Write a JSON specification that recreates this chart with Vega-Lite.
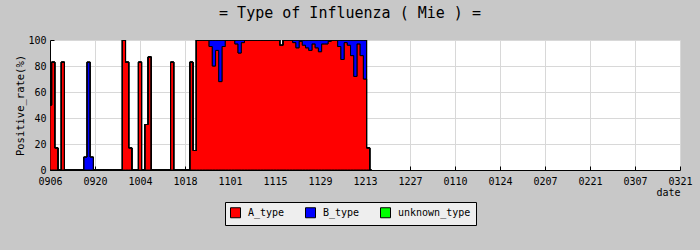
{
  "$schema": "https://vega.github.io/schema/vega-lite/v6.json",
  "width": 630,
  "height": 130,
  "autosize": {"type": "none"},
  "padding": {"left": 50, "top": 40, "right": 20, "bottom": 80},
  "background": "#c8c8c8",
  "title": {"text": "= Type of Influenza ( Mie ) =", "font": "DejaVu Sans Mono", "fontSize": 15, "fontWeight": "normal", "color": "black", "anchor": "middle", "dx": -15, "offset": 14},
  "config": {"view": {"fill": "white", "stroke": null}},
  "data": {"values": [
    {"date": "2009-09-06", "A_type": 50, "B_type": 0, "unknown_type": 0},
    {"date": "2009-09-07", "A_type": 83, "B_type": 0, "unknown_type": 0},
    {"date": "2009-09-08", "A_type": 17, "B_type": 0, "unknown_type": 0},
    {"date": "2009-09-09", "A_type": 0, "B_type": 0, "unknown_type": 0},
    {"date": "2009-09-10", "A_type": 83, "B_type": 0, "unknown_type": 0},
    {"date": "2009-09-11", "A_type": 0, "B_type": 0, "unknown_type": 0},
    {"date": "2009-09-12", "A_type": 0, "B_type": 0, "unknown_type": 0},
    {"date": "2009-09-13", "A_type": 0, "B_type": 0, "unknown_type": 0},
    {"date": "2009-09-14", "A_type": 0, "B_type": 0, "unknown_type": 0},
    {"date": "2009-09-15", "A_type": 0, "B_type": 0, "unknown_type": 0},
    {"date": "2009-09-16", "A_type": 0, "B_type": 0, "unknown_type": 0},
    {"date": "2009-09-17", "A_type": 0, "B_type": 10, "unknown_type": 0},
    {"date": "2009-09-18", "A_type": 0, "B_type": 83, "unknown_type": 0},
    {"date": "2009-09-19", "A_type": 0, "B_type": 10, "unknown_type": 0},
    {"date": "2009-09-20", "A_type": 0, "B_type": 0, "unknown_type": 0},
    {"date": "2009-09-21", "A_type": 0, "B_type": 0, "unknown_type": 0},
    {"date": "2009-09-22", "A_type": 0, "B_type": 0, "unknown_type": 0},
    {"date": "2009-09-23", "A_type": 0, "B_type": 0, "unknown_type": 0},
    {"date": "2009-09-24", "A_type": 0, "B_type": 0, "unknown_type": 0},
    {"date": "2009-09-25", "A_type": 0, "B_type": 0, "unknown_type": 0},
    {"date": "2009-09-26", "A_type": 0, "B_type": 0, "unknown_type": 0},
    {"date": "2009-09-27", "A_type": 0, "B_type": 0, "unknown_type": 0},
    {"date": "2009-09-28", "A_type": 0, "B_type": 0, "unknown_type": 0},
    {"date": "2009-09-29", "A_type": 100, "B_type": 0, "unknown_type": 0},
    {"date": "2009-09-30", "A_type": 83, "B_type": 0, "unknown_type": 0},
    {"date": "2009-10-01", "A_type": 17, "B_type": 0, "unknown_type": 0},
    {"date": "2009-10-02", "A_type": 0, "B_type": 0, "unknown_type": 0},
    {"date": "2009-10-03", "A_type": 0, "B_type": 0, "unknown_type": 0},
    {"date": "2009-10-04", "A_type": 83, "B_type": 0, "unknown_type": 0},
    {"date": "2009-10-05", "A_type": 0, "B_type": 0, "unknown_type": 0},
    {"date": "2009-10-06", "A_type": 35, "B_type": 0, "unknown_type": 0},
    {"date": "2009-10-07", "A_type": 87, "B_type": 0, "unknown_type": 0},
    {"date": "2009-10-08", "A_type": 0, "B_type": 0, "unknown_type": 0},
    {"date": "2009-10-09", "A_type": 0, "B_type": 0, "unknown_type": 0},
    {"date": "2009-10-10", "A_type": 0, "B_type": 0, "unknown_type": 0},
    {"date": "2009-10-11", "A_type": 0, "B_type": 0, "unknown_type": 0},
    {"date": "2009-10-12", "A_type": 0, "B_type": 0, "unknown_type": 0},
    {"date": "2009-10-13", "A_type": 0, "B_type": 0, "unknown_type": 0},
    {"date": "2009-10-14", "A_type": 83, "B_type": 0, "unknown_type": 0},
    {"date": "2009-10-15", "A_type": 0, "B_type": 0, "unknown_type": 0},
    {"date": "2009-10-16", "A_type": 0, "B_type": 0, "unknown_type": 0},
    {"date": "2009-10-17", "A_type": 0, "B_type": 0, "unknown_type": 0},
    {"date": "2009-10-18", "A_type": 0, "B_type": 0, "unknown_type": 0},
    {"date": "2009-10-19", "A_type": 0, "B_type": 0, "unknown_type": 0},
    {"date": "2009-10-20", "A_type": 83, "B_type": 0, "unknown_type": 0},
    {"date": "2009-10-21", "A_type": 15, "B_type": 0, "unknown_type": 0},
    {"date": "2009-10-22", "A_type": 100, "B_type": 0, "unknown_type": 0},
    {"date": "2009-10-23", "A_type": 100, "B_type": 0, "unknown_type": 0},
    {"date": "2009-10-24", "A_type": 100, "B_type": 0, "unknown_type": 0},
    {"date": "2009-10-25", "A_type": 100, "B_type": 0, "unknown_type": 0},
    {"date": "2009-10-26", "A_type": 95, "B_type": 5, "unknown_type": 0},
    {"date": "2009-10-27", "A_type": 80, "B_type": 20, "unknown_type": 0},
    {"date": "2009-10-28", "A_type": 92, "B_type": 8, "unknown_type": 0},
    {"date": "2009-10-29", "A_type": 68, "B_type": 32, "unknown_type": 0},
    {"date": "2009-10-30", "A_type": 95, "B_type": 5, "unknown_type": 0},
    {"date": "2009-10-31", "A_type": 100, "B_type": 0, "unknown_type": 0},
    {"date": "2009-11-01", "A_type": 100, "B_type": 0, "unknown_type": 0},
    {"date": "2009-11-02", "A_type": 100, "B_type": 0, "unknown_type": 0},
    {"date": "2009-11-03", "A_type": 97, "B_type": 3, "unknown_type": 0},
    {"date": "2009-11-04", "A_type": 90, "B_type": 10, "unknown_type": 0},
    {"date": "2009-11-05", "A_type": 98, "B_type": 2, "unknown_type": 0},
    {"date": "2009-11-06", "A_type": 100, "B_type": 0, "unknown_type": 0},
    {"date": "2009-11-07", "A_type": 100, "B_type": 0, "unknown_type": 0},
    {"date": "2009-11-08", "A_type": 100, "B_type": 0, "unknown_type": 0},
    {"date": "2009-11-09", "A_type": 100, "B_type": 0, "unknown_type": 0},
    {"date": "2009-11-10", "A_type": 100, "B_type": 0, "unknown_type": 0},
    {"date": "2009-11-11", "A_type": 100, "B_type": 0, "unknown_type": 0},
    {"date": "2009-11-12", "A_type": 100, "B_type": 0, "unknown_type": 0},
    {"date": "2009-11-13", "A_type": 100, "B_type": 0, "unknown_type": 0},
    {"date": "2009-11-14", "A_type": 100, "B_type": 0, "unknown_type": 0},
    {"date": "2009-11-15", "A_type": 100, "B_type": 0, "unknown_type": 0},
    {"date": "2009-11-16", "A_type": 100, "B_type": 0, "unknown_type": 0},
    {"date": "2009-11-17", "A_type": 96, "B_type": 0, "unknown_type": 0},
    {"date": "2009-11-18", "A_type": 100, "B_type": 0, "unknown_type": 0},
    {"date": "2009-11-19", "A_type": 100, "B_type": 0, "unknown_type": 0},
    {"date": "2009-11-20", "A_type": 100, "B_type": 0, "unknown_type": 0},
    {"date": "2009-11-21", "A_type": 98, "B_type": 2, "unknown_type": 0},
    {"date": "2009-11-22", "A_type": 94, "B_type": 6, "unknown_type": 0},
    {"date": "2009-11-23", "A_type": 99, "B_type": 1, "unknown_type": 0},
    {"date": "2009-11-24", "A_type": 96, "B_type": 4, "unknown_type": 0},
    {"date": "2009-11-25", "A_type": 94, "B_type": 6, "unknown_type": 0},
    {"date": "2009-11-26", "A_type": 92, "B_type": 8, "unknown_type": 0},
    {"date": "2009-11-27", "A_type": 97, "B_type": 3, "unknown_type": 0},
    {"date": "2009-11-28", "A_type": 94, "B_type": 6, "unknown_type": 0},
    {"date": "2009-11-29", "A_type": 91, "B_type": 9, "unknown_type": 0},
    {"date": "2009-11-30", "A_type": 97, "B_type": 3, "unknown_type": 0},
    {"date": "2009-12-01", "A_type": 97, "B_type": 3, "unknown_type": 0},
    {"date": "2009-12-02", "A_type": 99, "B_type": 1, "unknown_type": 0},
    {"date": "2009-12-03", "A_type": 100, "B_type": 0, "unknown_type": 0},
    {"date": "2009-12-04", "A_type": 100, "B_type": 0, "unknown_type": 0},
    {"date": "2009-12-05", "A_type": 95, "B_type": 5, "unknown_type": 0},
    {"date": "2009-12-06", "A_type": 85, "B_type": 15, "unknown_type": 0},
    {"date": "2009-12-07", "A_type": 98, "B_type": 2, "unknown_type": 0},
    {"date": "2009-12-08", "A_type": 96, "B_type": 4, "unknown_type": 0},
    {"date": "2009-12-09", "A_type": 88, "B_type": 12, "unknown_type": 0},
    {"date": "2009-12-10", "A_type": 72, "B_type": 28, "unknown_type": 0},
    {"date": "2009-12-11", "A_type": 97, "B_type": 3, "unknown_type": 0},
    {"date": "2009-12-12", "A_type": 88, "B_type": 12, "unknown_type": 0},
    {"date": "2009-12-13", "A_type": 70, "B_type": 30, "unknown_type": 0},
    {"date": "2009-12-14", "A_type": 17, "B_type": 0, "unknown_type": 0},
    {"date": "2009-12-15", "A_type": 0, "B_type": 0, "unknown_type": 0}
  ]},
  "transform": [{"fold": ["A_type", "B_type", "unknown_type"], "as": ["type", "rate"]}],
  "mark": {"type": "area", "interpolate": "step", "stroke": "black", "strokeWidth": 1, "clip": true},
  "encoding": {
    "x": {
      "field": "date", "type": "temporal",
      "scale": {"type": "utc", "domain": [{"year": 2009, "month": 9, "date": 6, "utc": true}, {"year": 2010, "month": 3, "date": 21, "utc": true}]},
      "axis": {
        "values": [
          {"year": 2009, "month": 9, "date": 6, "utc": true},
          {"year": 2009, "month": 9, "date": 20, "utc": true},
          {"year": 2009, "month": 10, "date": 4, "utc": true},
          {"year": 2009, "month": 10, "date": 18, "utc": true},
          {"year": 2009, "month": 11, "date": 1, "utc": true},
          {"year": 2009, "month": 11, "date": 15, "utc": true},
          {"year": 2009, "month": 11, "date": 29, "utc": true},
          {"year": 2009, "month": 12, "date": 13, "utc": true},
          {"year": 2009, "month": 12, "date": 27, "utc": true},
          {"year": 2010, "month": 1, "date": 10, "utc": true},
          {"year": 2010, "month": 1, "date": 24, "utc": true},
          {"year": 2010, "month": 2, "date": 7, "utc": true},
          {"year": 2010, "month": 2, "date": 21, "utc": true},
          {"year": 2010, "month": 3, "date": 7, "utc": true},
          {"year": 2010, "month": 3, "date": 21, "utc": true}
        ],
        "labelExpr": "utcFormat(datum.value, '%m%d')",
        "labelFont": "DejaVu Sans Mono", "labelFontSize": 10, "labelColor": "black",
        "labelPadding": 10, "labelFlush": false, "labelOverlap": false,
        "tickSize": -4, "tickColor": "black", "domainColor": "black",
        "grid": true, "gridColor": "#d8d8d8",
        "title": "date", "titleFont": "DejaVu Sans Mono", "titleFontSize": 10, "titleFontWeight": "normal", "titleColor": "black",
        "titleAnchor": "end", "titlePadding": 1
      }
    },
    "y": {
      "field": "rate", "type": "quantitative", "stack": "zero",
      "scale": {"domain": [0, 100], "nice": false},
      "axis": {
        "values": [0, 20, 40, 60, 80, 100],
        "labelFont": "DejaVu Sans Mono", "labelFontSize": 10, "labelColor": "black",
        "labelPadding": 8, "labelFlush": false,
        "tickSize": -4, "tickColor": "black", "domainColor": "black",
        "grid": true, "gridColor": "#d8d8d8",
        "title": "Positive_rate(%)", "titleFont": "DejaVu Sans Mono", "titleFontSize": 10.5, "titleFontWeight": "normal", "titleColor": "black",
        "titlePadding": 2
      }
    },
    "order": {"field": "type", "sort": "ascending"},
    "color": {
      "field": "type", "type": "nominal",
      "scale": {"domain": ["A_type", "B_type", "unknown_type"], "range": ["#ff0000", "#0000ff", "#00ff00"]},
      "legend": {
        "orient": "none", "legendX": 175, "legendY": 162, "direction": "horizontal", "title": null,
        "fillColor": "#eeeeee", "strokeColor": "black", "padding": 5,
        "symbolType": "square", "symbolSize": 100, "symbolStrokeColor": "black", "symbolStrokeWidth": 1, "symbolOpacity": 1,
        "labelFont": "DejaVu Sans Mono", "labelFontSize": 10, "labelColor": "black", "labelOffset": 7, "columnPadding": 18
      }
    }
  }
}
